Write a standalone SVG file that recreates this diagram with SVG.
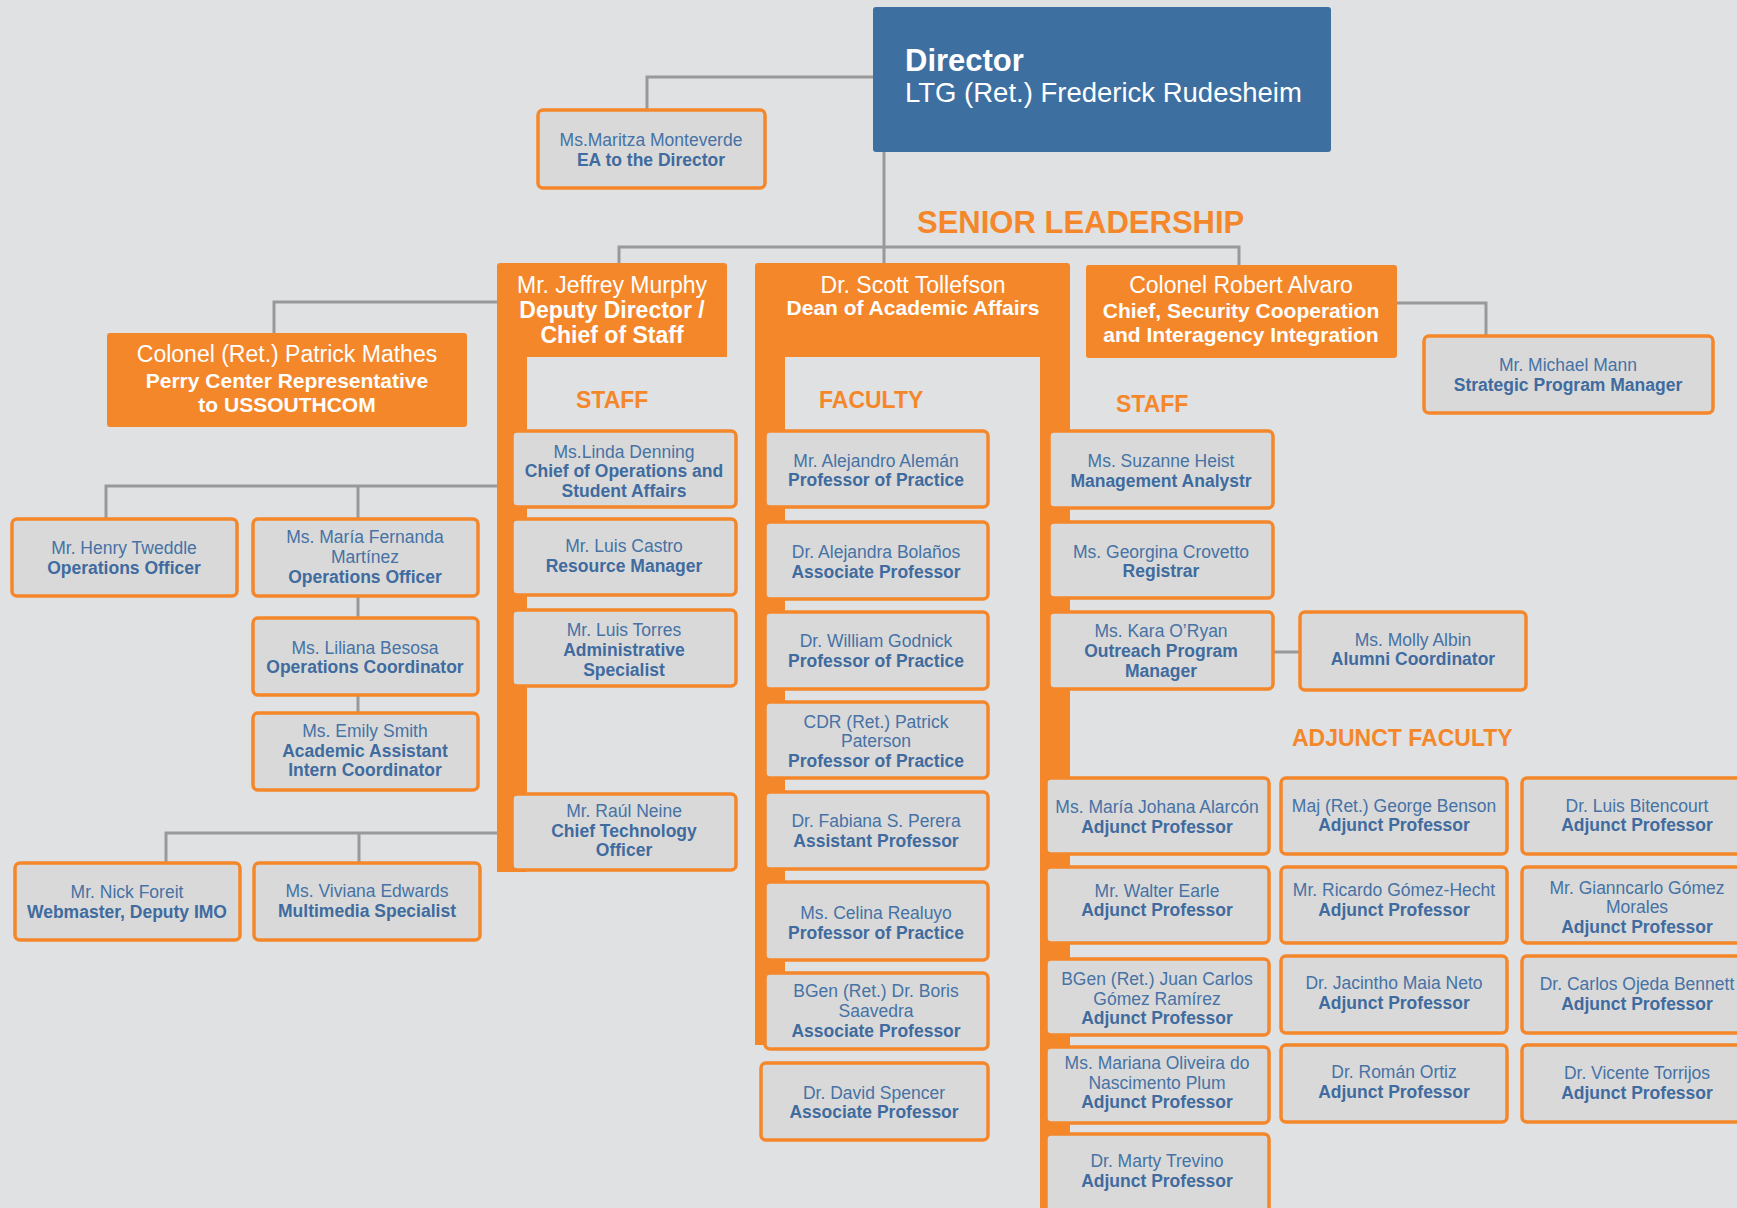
<svg xmlns="http://www.w3.org/2000/svg" width="1737" height="1208" viewBox="0 0 1737 1208">
<style>
text{font-family:"Liberation Sans",Arial,sans-serif}
.bx{fill:#d9d9d9;stroke:#f5872b;stroke-width:3.5}
.or{fill:#f5872b}
.n{font-size:17.5px;fill:#4672a5;text-anchor:middle}
.t{font-size:17.5px;fill:#3f6b9f;font-weight:bold;text-anchor:middle}
.hn{font-size:23px;fill:#fff;text-anchor:middle}
.ht{font-size:21px;fill:#fff;font-weight:bold;text-anchor:middle}
.ht2{font-size:23px;fill:#fff;font-weight:bold;text-anchor:middle}
.lb{font-size:23px;fill:#f5872b;font-weight:bold}
.lb2{font-size:31px;fill:#f5872b;font-weight:bold}
.cn{fill:none;stroke:#999;stroke-width:3}
</style>
<rect width="1737" height="1208" fill="#e0e1e3"/>
<g id="connectors" class="cn">
<polyline points="873,77 647,77 647,110"/>
<polyline points="884,152 884,263"/>
<polyline points="619,263 619,247 1239,247 1239,265"/>
<polyline points="497,302 274,302 274,333"/>
<polyline points="497,486 106,486 106,519"/>
<polyline points="358,486 358,519"/>
<polyline points="358,596 358,618"/>
<polyline points="358,695 358,713"/>
<polyline points="497,833 166,833 166,863"/>
<polyline points="359,833 359,863"/>
<polyline points="1397,303 1486,303 1486,336"/>
<polyline points="1273,652 1300,652"/>
</g>
<g id="director">
<rect x="873" y="7" width="458" height="145" rx="3" fill="#3d6fa1"/>
<text x="905" y="71" font-size="31" font-weight="bold" fill="#fff">Director</text>
<text x="905" y="102" font-size="27.5" fill="#fff">LTG (Ret.) Frederick Rudesheim</text>
</g>
<g id="ea">
<rect class="bx" x="538" y="110" width="227" height="78" rx="5"/>
<text class="n" x="651" y="146">Ms.Maritza Monteverde</text>
<text class="t" x="651" y="166">EA to the Director</text>
</g>
<text class="lb2" x="917" y="233">SENIOR LEADERSHIP</text>
<g id="murphy">
<path class="or" d="M497,266 Q497,263 500,263 H724 Q727,263 727,266 V357 H527 V872 H497 Z"/>
<text class="hn" x="612" y="293">Mr. Jeffrey Murphy</text>
<text class="ht2" x="612" y="318">Deputy Director /</text>
<text class="ht2" x="612" y="343">Chief of Staff</text>
</g>
<g id="tollefson">
<path class="or" d="M755,266 Q755,263 758,263 H1067 Q1070,263 1070,266 V1208 H1040 V357 H785 V1045 H755 Z"/>
<text class="hn" x="913" y="293">Dr. Scott Tollefson</text>
<text class="ht" x="913" y="315">Dean of Academic Affairs</text>
</g>
<g id="alvaro">
<rect class="or" x="1086" y="265" width="311" height="93" rx="3"/>
<text class="hn" x="1241" y="293">Colonel Robert Alvaro</text>
<text class="ht" x="1241" y="318">Chief, Security Cooperation</text>
<text class="ht" x="1241" y="342">and Interagency Integration</text>
</g>
<g id="mann">
<rect class="bx" x="1424" y="336" width="289" height="77" rx="5"/>
<text class="n" x="1568" y="371">Mr. Michael Mann</text>
<text class="t" x="1568" y="391">Strategic Program Manager</text>
</g>
<g id="perry">
<rect class="or" x="107" y="333" width="360" height="94" rx="3"/>
<text class="hn" x="287" y="362">Colonel (Ret.) Patrick Mathes</text>
<text class="ht" x="287" y="388">Perry Center Representative</text>
<text class="ht" x="287" y="412">to USSOUTHCOM</text>
</g>
<text class="lb" x="576" y="408">STAFF</text>
<text class="lb" x="819" y="408">FACULTY</text>
<text class="lb" x="1116" y="412">STAFF</text>
<text class="lb" x="1292" y="746">ADJUNCT FACULTY</text>
<g id="tweddle">
<rect class="bx" x="12" y="519" width="225" height="77" rx="5"/>
<text class="n" x="124" y="554">Mr. Henry Tweddle</text>
<text class="t" x="124" y="574">Operations Officer</text>
</g>
<g id="martinez">
<rect class="bx" x="253" y="519" width="225" height="77" rx="5"/>
<text class="n" x="365" y="543">Ms. María Fernanda</text>
<text class="n" x="365" y="563">Martínez</text>
<text class="t" x="365" y="583">Operations Officer</text>
</g>
<g id="besosa">
<rect class="bx" x="253" y="618" width="225" height="77" rx="5"/>
<text class="n" x="365" y="654">Ms. Liliana Besosa</text>
<text class="t" x="365" y="673">Operations Coordinator</text>
</g>
<g id="smith">
<rect class="bx" x="253" y="713" width="225" height="77" rx="5"/>
<text class="n" x="365" y="737">Ms. Emily Smith</text>
<text class="t" x="365" y="757">Academic Assistant</text>
<text class="t" x="365" y="776">Intern Coordinator</text>
</g>
<g id="foreit">
<rect class="bx" x="15" y="863" width="225" height="77" rx="5"/>
<text class="n" x="127" y="898">Mr. Nick Foreit</text>
<text class="t" x="127" y="918">Webmaster, Deputy IMO</text>
</g>
<g id="edwards">
<rect class="bx" x="254" y="863" width="226" height="77" rx="5"/>
<text class="n" x="367" y="897">Ms. Viviana Edwards</text>
<text class="t" x="367" y="917">Multimedia Specialist</text>
</g>
<g id="denning">
<rect class="bx" x="512" y="431" width="224" height="76" rx="5"/>
<text class="n" x="624" y="458">Ms.Linda Denning</text>
<text class="t" x="624" y="477">Chief of Operations and</text>
<text class="t" x="624" y="497">Student Affairs</text>
</g>
<g id="castro">
<rect class="bx" x="512" y="519" width="224" height="76" rx="5"/>
<text class="n" x="624" y="552">Mr. Luis Castro</text>
<text class="t" x="624" y="572">Resource Manager</text>
</g>
<g id="torres">
<rect class="bx" x="512" y="610" width="224" height="76" rx="5"/>
<text class="n" x="624" y="636">Mr. Luis Torres</text>
<text class="t" x="624" y="656">Administrative</text>
<text class="t" x="624" y="676">Specialist</text>
</g>
<g id="neine">
<rect class="bx" x="512" y="794" width="224" height="76" rx="5"/>
<text class="n" x="624" y="817">Mr. Raúl Neine</text>
<text class="t" x="624" y="837">Chief Technology</text>
<text class="t" x="624" y="856">Officer</text>
</g>
<g id="aleman">
<rect class="bx" x="765" y="431" width="223" height="76" rx="5"/>
<text class="n" x="876" y="467">Mr. Alejandro Alemán</text>
<text class="t" x="876" y="486">Professor of Practice</text>
</g>
<g id="bolanos">
<rect class="bx" x="765" y="522" width="223" height="77" rx="5"/>
<text class="n" x="876" y="558">Dr. Alejandra Bolaños</text>
<text class="t" x="876" y="578">Associate Professor</text>
</g>
<g id="godnick">
<rect class="bx" x="765" y="612" width="223" height="77" rx="5"/>
<text class="n" x="876" y="647">Dr. William Godnick</text>
<text class="t" x="876" y="667">Professor of Practice</text>
</g>
<g id="paterson">
<rect class="bx" x="765" y="702" width="223" height="76" rx="5"/>
<text class="n" x="876" y="728">CDR (Ret.) Patrick</text>
<text class="n" x="876" y="747">Paterson</text>
<text class="t" x="876" y="767">Professor of Practice</text>
</g>
<g id="perera">
<rect class="bx" x="765" y="792" width="223" height="77" rx="5"/>
<text class="n" x="876" y="827">Dr. Fabiana S. Perera</text>
<text class="t" x="876" y="847">Assistant Professor</text>
</g>
<g id="realuyo">
<rect class="bx" x="765" y="882" width="223" height="78" rx="5"/>
<text class="n" x="876" y="919">Ms. Celina Realuyo</text>
<text class="t" x="876" y="939">Professor of Practice</text>
</g>
<g id="saavedra">
<rect class="bx" x="765" y="973" width="223" height="76" rx="5"/>
<text class="n" x="876" y="997">BGen (Ret.) Dr. Boris</text>
<text class="n" x="876" y="1017">Saavedra</text>
<text class="t" x="876" y="1037">Associate Professor</text>
</g>
<g id="spencer">
<rect class="bx" x="761" y="1063" width="227" height="77" rx="5"/>
<text class="n" x="874" y="1099">Dr. David Spencer</text>
<text class="t" x="874" y="1118">Associate Professor</text>
</g>
<g id="heist">
<rect class="bx" x="1049" y="431" width="224" height="77" rx="5"/>
<text class="n" x="1161" y="467">Ms. Suzanne Heist</text>
<text class="t" x="1161" y="487">Management Analystr</text>
</g>
<g id="crovetto">
<rect class="bx" x="1049" y="522" width="224" height="76" rx="5"/>
<text class="n" x="1161" y="558">Ms. Georgina Crovetto</text>
<text class="t" x="1161" y="577">Registrar</text>
</g>
<g id="oryan">
<rect class="bx" x="1049" y="612" width="224" height="77" rx="5"/>
<text class="n" x="1161" y="637">Ms. Kara O’Ryan</text>
<text class="t" x="1161" y="657">Outreach Program</text>
<text class="t" x="1161" y="677">Manager</text>
</g>
<g id="albin">
<rect class="bx" x="1300" y="612" width="226" height="78" rx="5"/>
<text class="n" x="1413" y="646">Ms. Molly Albin</text>
<text class="t" x="1413" y="665">Alumni Coordinator</text>
</g>
<g id="alarcon">
<rect class="bx" x="1046" y="778" width="223" height="76" rx="5"/>
<text class="n" x="1157" y="813">Ms. María Johana Alarcón</text>
<text class="t" x="1157" y="833">Adjunct Professor</text>
</g>
<g id="earle">
<rect class="bx" x="1046" y="867" width="223" height="76" rx="5"/>
<text class="n" x="1157" y="897">Mr. Walter Earle</text>
<text class="t" x="1157" y="916">Adjunct Professor</text>
</g>
<g id="ramirez">
<rect class="bx" x="1046" y="959" width="223" height="76" rx="5"/>
<text class="n" x="1157" y="985">BGen (Ret.) Juan Carlos</text>
<text class="n" x="1157" y="1005">Gómez Ramírez</text>
<text class="t" x="1157" y="1024">Adjunct Professor</text>
</g>
<g id="plum">
<rect class="bx" x="1046" y="1047" width="223" height="76" rx="5"/>
<text class="n" x="1157" y="1069">Ms. Mariana Oliveira do</text>
<text class="n" x="1157" y="1089">Nascimento Plum</text>
<text class="t" x="1157" y="1108">Adjunct Professor</text>
</g>
<g id="trevino">
<rect class="bx" x="1046" y="1134" width="223" height="100" rx="5"/>
<text class="n" x="1157" y="1167">Dr. Marty Trevino</text>
<text class="t" x="1157" y="1187">Adjunct Professor</text>
</g>
<g id="benson">
<rect class="bx" x="1281" y="778" width="226" height="76" rx="5"/>
<text class="n" x="1394" y="812">Maj (Ret.) George Benson</text>
<text class="t" x="1394" y="831">Adjunct Professor</text>
</g>
<g id="gomezhecht">
<rect class="bx" x="1281" y="867" width="226" height="76" rx="5"/>
<text class="n" x="1394" y="896">Mr. Ricardo Gómez-Hecht</text>
<text class="t" x="1394" y="916">Adjunct Professor</text>
</g>
<g id="maianeto">
<rect class="bx" x="1281" y="956" width="226" height="77" rx="5"/>
<text class="n" x="1394" y="989">Dr. Jacintho Maia Neto</text>
<text class="t" x="1394" y="1009">Adjunct Professor</text>
</g>
<g id="ortiz">
<rect class="bx" x="1281" y="1045" width="226" height="77" rx="5"/>
<text class="n" x="1394" y="1078">Dr. Román Ortiz</text>
<text class="t" x="1394" y="1098">Adjunct Professor</text>
</g>
<g id="bitencourt">
<rect class="bx" x="1522" y="778" width="228" height="76" rx="5"/>
<text class="n" x="1637" y="812">Dr. Luis Bitencourt</text>
<text class="t" x="1637" y="831">Adjunct Professor</text>
</g>
<g id="gianncarlo">
<rect class="bx" x="1522" y="867" width="228" height="76" rx="5"/>
<text class="n" x="1637" y="894">Mr. Gianncarlo Gómez</text>
<text class="n" x="1637" y="913">Morales</text>
<text class="t" x="1637" y="933">Adjunct Professor</text>
</g>
<g id="ojeda">
<rect class="bx" x="1522" y="956" width="228" height="77" rx="5"/>
<text class="n" x="1637" y="990">Dr. Carlos Ojeda Bennett</text>
<text class="t" x="1637" y="1010">Adjunct Professor</text>
</g>
<g id="torrijos">
<rect class="bx" x="1522" y="1045" width="228" height="77" rx="5"/>
<text class="n" x="1637" y="1079">Dr. Vicente Torrijos</text>
<text class="t" x="1637" y="1099">Adjunct Professor</text>
</g>
</svg>
